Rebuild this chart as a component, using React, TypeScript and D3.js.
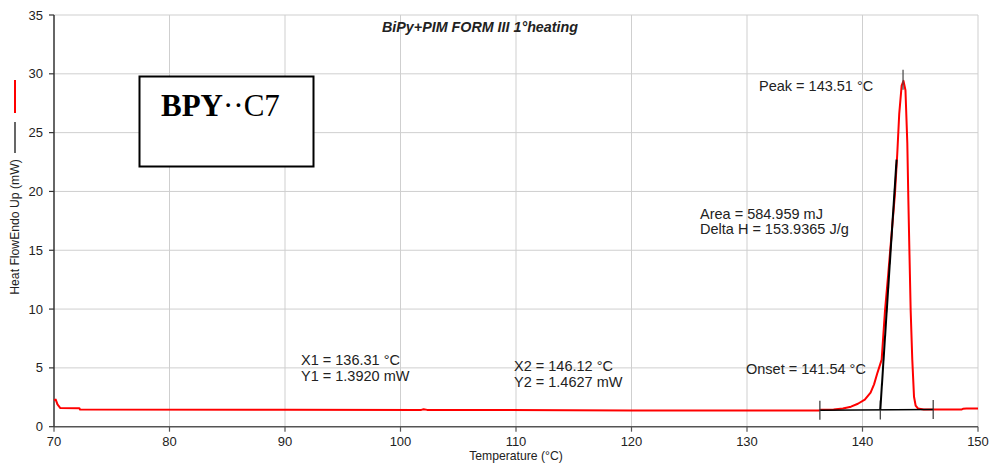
import React from "react";
import * as d3 from "d3";

// DSC trace: temperature (°C) vs heat flow (mW)
const temperature = [
  70.0, 70.15, 70.3, 70.55, 72.2, 72.25, 90, 101.8, 102.0, 102.3, 120, 136.2, 136.4,
  137.5, 138.3, 139.0, 139.6, 140.2, 140.7, 141.0, 141.3, 141.66, 141.95, 142.23,
  142.52, 142.81, 143.01, 143.18, 143.39, 143.55, 143.72, 143.88, 143.97, 144.06,
  144.17, 144.31, 144.46, 144.6, 144.8, 145.3, 148.6, 148.7, 149.0, 150.0,
];
const heatFlow = [
  2.25, 2.3, 1.9, 1.58, 1.56, 1.47, 1.44, 1.43, 1.48, 1.43, 1.38, 1.37, 1.45,
  1.46, 1.55, 1.7, 1.95, 2.3, 2.9, 3.6, 4.6, 5.7, 9.9, 13.0,
  16.4, 19.8, 23.2, 26.6, 29.0, 29.4, 28.6, 24.1, 19.3, 15.0,
  9.9, 5.7, 2.55, 1.8, 1.55, 1.47, 1.47, 1.52, 1.54, 1.55,
];

// Analysis results
const x1 = 136.31;
const y1 = 1.392;
const x2 = 146.12;
const y2 = 1.4627;
const onsetT = 141.54;
const peakT = 143.51;
const peakValue = 29.4;
const tangentTop = [142.95, 22.7];

const xTicks = [70, 80, 90, 100, 110, 120, 130, 140, 150];
const yTicks = [0, 5, 10, 15, 20, 25, 30, 35];

const W = 993;
const H = 467;
const left = 54;
const right = 978;
const top = 15;
const bottom = 426.7;

const sans = "'Liberation Sans', Arial, sans-serif";
const serif = "'Liberation Serif', 'Times New Roman', serif";

export default function App() {
  const x = d3.scaleLinear().domain([70, 150]).range([left, right]);
  const y = d3.scaleLinear().domain([0, 35]).range([bottom, top]);

  const points: [number, number][] = temperature.map((t, i) => [t, heatFlow[i]]);
  const line = d3
    .line<[number, number]>()
    .x((d) => x(d[0]))
    .y((d) => y(d[1]));

  // Baseline value at a temperature (linear between X1/Y1 and X2/Y2)
  const baseAt = (t: number) => y1 + ((t - x1) / (x2 - x1)) * (y2 - y1);
  const onsetY = baseAt(onsetT);

  const tickHalf = 9.5;

  return (
    <svg
      width={W}
      height={H}
      style={{ position: "absolute", left: 0, top: 0, background: "#fff" }}
    >
      <rect x={0} y={0} width={W} height={H} fill="#fff" />

      {/* grid */}
      {xTicks.slice(1).map((t) => (
        <line key={"gx" + t} x1={x(t)} x2={x(t)} y1={top} y2={bottom} stroke="#cfcfcf" strokeWidth={1} />
      ))}
      {yTicks.slice(1).map((t) => (
        <line key={"gy" + t} x1={left} x2={right} y1={y(t)} y2={y(t)} stroke="#cfcfcf" strokeWidth={1} />
      ))}

      {/* axes */}
      <line x1={left} x2={right} y1={bottom} y2={bottom} stroke="#555" strokeWidth={1.5} />
      <line x1={left} x2={left} y1={top} y2={bottom} stroke="#333" strokeWidth={1.5} />
      {yTicks.map((t) => (
        <g key={"ty" + t}>
          <line x1={left - 5} x2={left} y1={y(t)} y2={y(t)} stroke="#333" strokeWidth={1.2} />
          <text x={43} y={y(t) + 4.5} textAnchor="end" fontFamily={sans} fontSize={13} fill="#222">
            {t}
          </text>
        </g>
      ))}
      {xTicks.map((t) => (
        <g key={"tx" + t}>
          <line x1={x(t)} x2={x(t)} y1={bottom} y2={bottom + 5} stroke="#555" strokeWidth={1.2} />
          <text x={x(t)} y={445.5} textAnchor="middle" fontFamily={sans} fontSize={13} fill="#222">
            {t}
          </text>
        </g>
      ))}

      {/* axis titles */}
      <text x={516} y={460} textAnchor="middle" fontFamily={sans} fontSize={12.2} fill="#222">
        Temperature (°C)
      </text>
      <text
        transform="translate(19,227) rotate(-90)"
        textAnchor="middle"
        fontFamily={sans}
        fontSize={12.2}
        fill="#222"
      >
        Heat FlowEndo Up (mW)
      </text>
      <line x1={15} x2={15} y1={80} y2={113} stroke="#ff0000" strokeWidth={2} />
      <line x1={15} x2={15} y1={122} y2={153} stroke="#000" strokeWidth={1.2} />

      {/* title */}
      <text x={480} y={31.5} textAnchor="middle" fontFamily={sans} fontSize={14.3} fontWeight="bold" fontStyle="italic" fill="#222">
        BiPy+PIM FORM III 1°heating
      </text>

      {/* sample label box */}
      <rect x={139.5} y={76.5} width={174} height={90} fill="#fff" stroke="#000" strokeWidth={2} />
      <text x={161} y={115.5} fontFamily={serif} fontSize={31} fill="#000">
        <tspan fontWeight="bold">BPY</tspan>
        <tspan>··C7</tspan>
      </text>

      {/* heat flow curve */}
      <path d={line(points) ?? ""} fill="none" stroke="#ff0000" strokeWidth={2} strokeLinejoin="round" />

      {/* baseline and markers */}
      <line x1={x(x1)} x2={x(x2)} y1={y(y1)} y2={y(y2)} stroke="#000" strokeWidth={1.5} />
      {[x1, onsetT, x2].map((t) => (
        <line
          key={"m" + t}
          x1={x(t)}
          x2={x(t)}
          y1={y(baseAt(t)) - tickHalf}
          y2={y(baseAt(t)) + tickHalf}
          stroke="#333"
          strokeWidth={1.2}
        />
      ))}
      {/* onset tangent */}
      <line
        x1={x(onsetT)}
        y1={y(onsetY)}
        x2={x(tangentTop[0])}
        y2={y(tangentTop[1])}
        stroke="#000"
        strokeWidth={2}
      />
      {/* peak marker */}
      <line
        x1={x(peakT)}
        x2={x(peakT)}
        y1={y(peakValue) - 11}
        y2={y(peakValue) + 9}
        stroke="#444"
        strokeWidth={1.2}
      />

      {/* annotations */}
      <g fontFamily={sans} fontSize={14.5} fill="#222">
        <text x={759} y={90.5}>Peak = 143.51 °C</text>
        <text x={700} y={218.5}>Area = 584.959 mJ</text>
        <text x={700} y={233.5}>Delta H = 153.9365 J/g</text>
        <text x={746} y={374}>Onset = 141.54 °C</text>
        <text x={301} y={364.5}>X1 = 136.31 °C</text>
        <text x={301} y={380.5}>Y1 = 1.3920 mW</text>
        <text x={514} y={371}>X2 = 146.12 °C</text>
        <text x={514} y={387}>Y2 = 1.4627 mW</text>
      </g>
    </svg>
  );
}
